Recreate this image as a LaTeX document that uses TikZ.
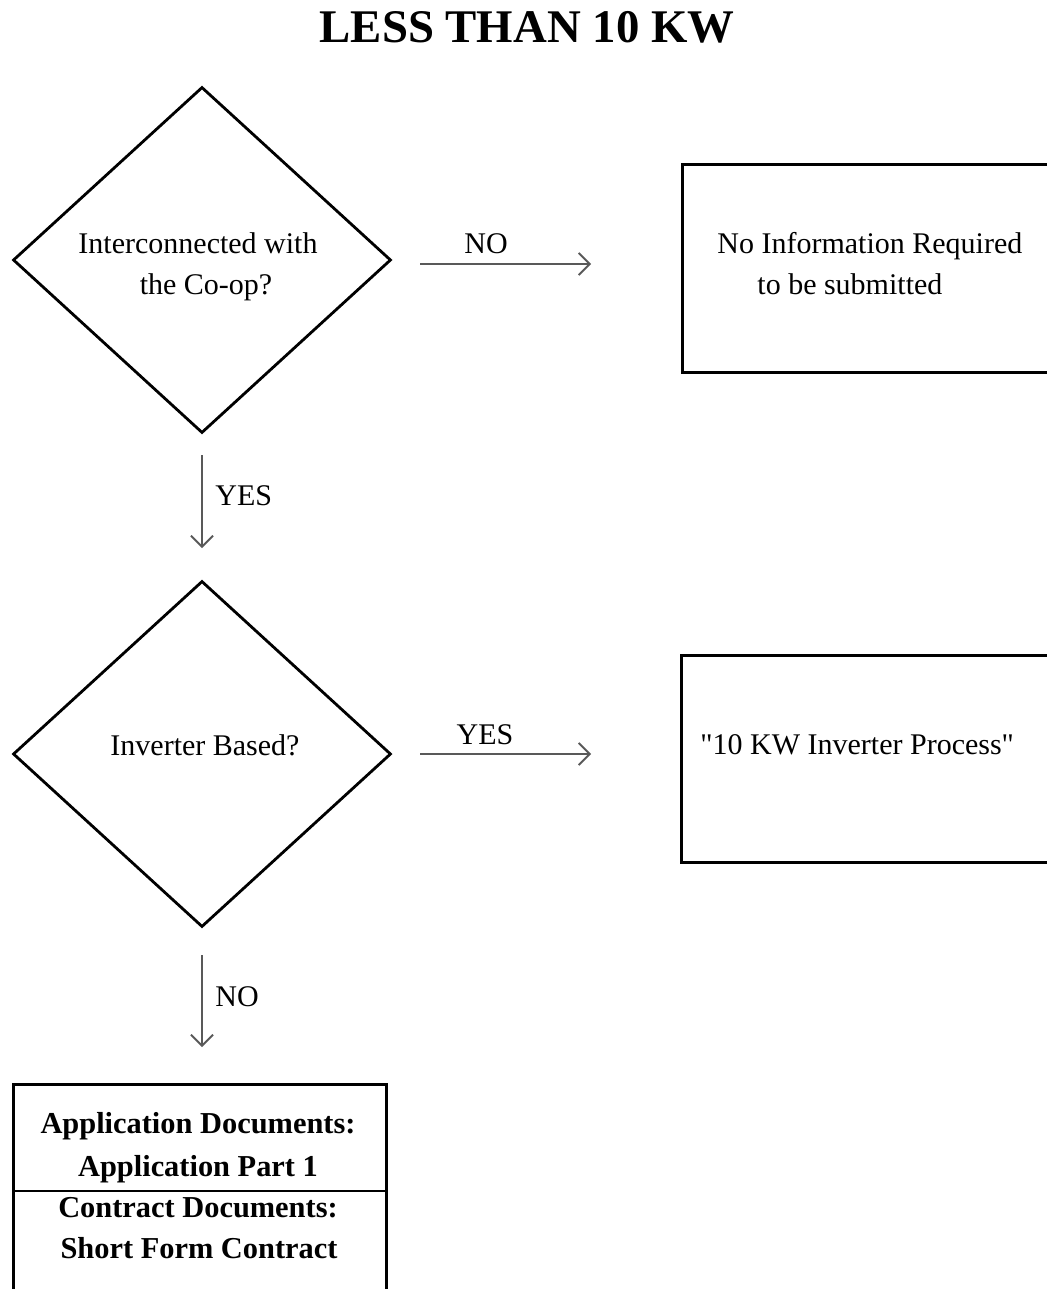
\documentclass[tikz,border=0pt]{standalone}
\usepackage{fontspec}
\setmainfont{Liberation Serif}
\newfontfamily\plainserif{Liberation Serif}
\usetikzlibrary{arrows.meta,shapes.geometric}
\tikzset{
  decision/.style={draw=black, line width=1.4pt, diamond, aspect=1.0925, minimum width=189pt, minimum height=173pt, inner sep=0pt},
  procbox/.style={draw=black, line width=1.6pt, rectangle, inner sep=0pt},
  txt/.style={font=\fontsize{15}{18}\selectfont, inner sep=0pt, anchor=base},
  btxt/.style={font=\fontsize{15.2}{18}\selectfont\bfseries, inner sep=0pt, anchor=base},
  flow/.style={draw=black!65, line width=0.9pt, -{Straight Barb[length=5.5pt, width=11pt, line width=0.9pt]}},
}
\begin{document}
\begin{tikzpicture}[x=0.5pt, y=-0.5pt]
\useasboundingbox (0,0) rectangle (1047,1289);
\fill[white] (0,0) rectangle (1047,1289);
\clip (0,0) rectangle (1047,1289);

\node[font=\fontsize{23.4}{28}\selectfont\bfseries, inner sep=0pt, anchor=base] (title) at (527,43) {LESS THAN 10 KW};

% diamonds
\node[decision] (d1) at (202,260) {};
\node[decision] (d2) at (202,754) {};
\node[txt] (d1a) at (198,253) {Interconnected with};
\node[txt] (d1b) at (206,294) {the Co-op?};
\node[txt] (d2a) at (205,755) {Inverter Based?};

% right boxes (cut by the right edge)
\node[procbox, anchor=north west, minimum width=210pt, minimum height=104pt] (b1) at (681,163) {};
\node[txt, anchor=base west] (b1a) at (717,253) {No Information Required};
\node[txt, anchor=base west] (b1b) at (757,294) {to be submitted};
\node[procbox, anchor=north west, minimum width=210pt, minimum height=103.5pt] (b2) at (680,654) {};
\node[txt, anchor=base west, font=\fontsize{15}{18}\plainserif] (b2a) at (700,754) {"10 KW Inverter Process"};

% bottom box (cut by the bottom edge)
\node[procbox, anchor=north west, minimum width=186.5pt, minimum height=130pt] (b3) at (12,1083) {};
\draw[line width=0.9pt] (b3.west |- 0,1191) -- (b3.east |- 0,1191);
\node[btxt] (b3a) at (198,1133) {Application Documents:};
\node[btxt] (b3b) at (198,1176) {Application Part 1};
\node[btxt] (b3c) at (198,1217) {Contract Documents:};
\node[btxt] (b3d) at (199,1258) {Short Form Contract};

% connectors
\coordinate (n1s) at (420,264);
\coordinate (n1e) at (591,264);
\draw[flow] (n1s) -- (n1e);
\node[txt] (lno1) at (486,253) {NO};

\coordinate (y2s) at (420,754);
\coordinate (y2e) at (591,754);
\draw[flow] (y2s) -- (y2e);
\node[txt] (lyes2) at (485,744) {YES};

\coordinate (y1s) at (202,455);
\coordinate (y1e) at (202,548);
\draw[flow] (y1s) -- (y1e);
\node[txt, anchor=base west] (lyes1) at (215,505) {YES};

\coordinate (n2s) at (202,955);
\coordinate (n2e) at (202,1047);
\draw[flow] (n2s) -- (n2e);
\node[txt, anchor=base west] (lno2) at (215,1006) {NO};
\end{tikzpicture}
\end{document}
